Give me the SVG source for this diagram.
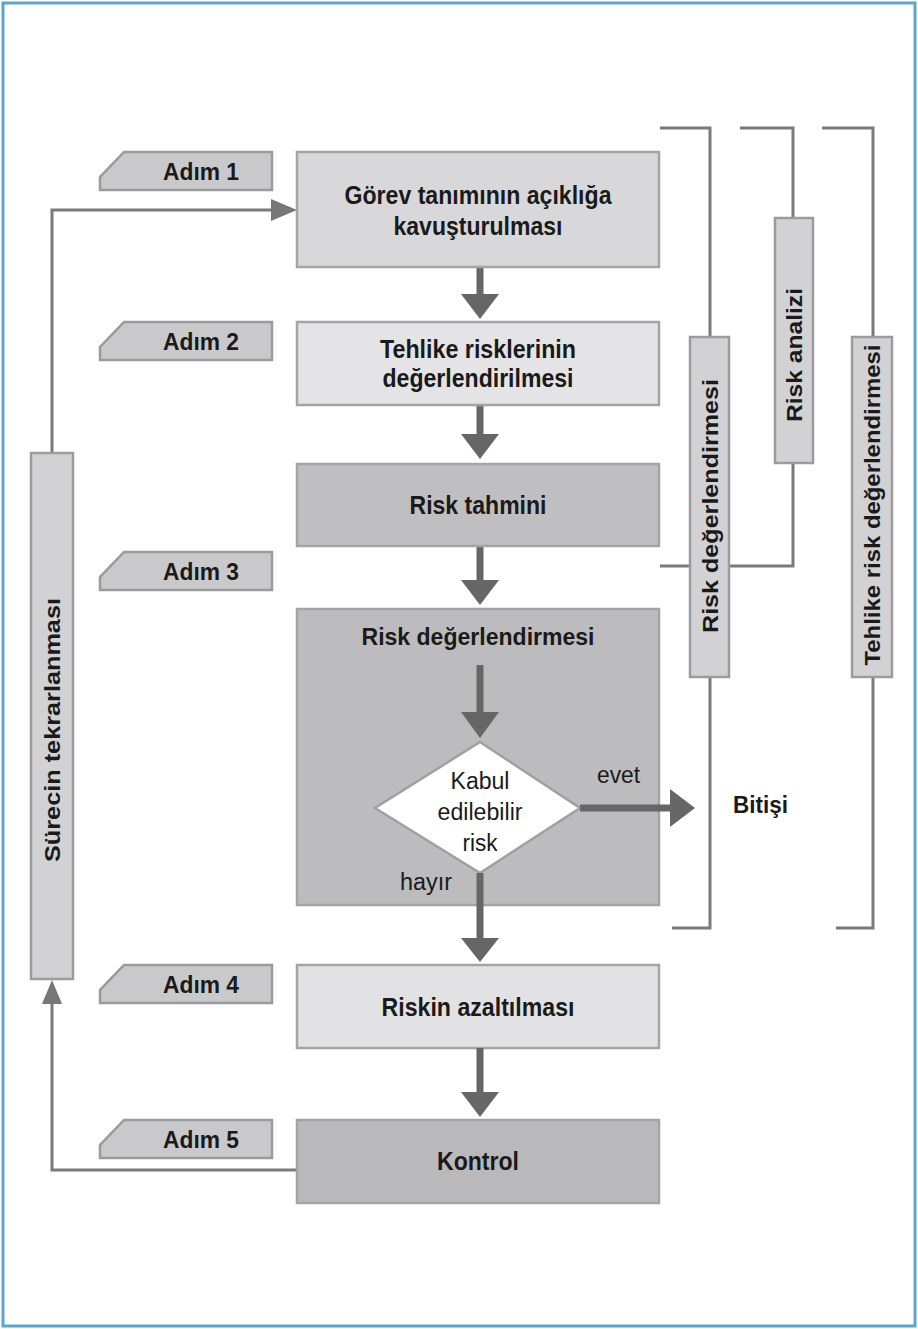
<svg xmlns="http://www.w3.org/2000/svg" width="918" height="1329" viewBox="0 0 918 1329">
<style>
.t{font-family:"Liberation Sans",Arial,sans-serif;font-weight:bold;fill:#1a1a1a;}
.r{font-family:"Liberation Sans",Arial,sans-serif;font-weight:normal;fill:#1a1a1a;}
.box{stroke:#a4a4a6;stroke-width:2.5;}
.tag{fill:#c9c9cb;stroke:#9a9a9c;stroke-width:2.5;}
.bar{fill:#d2d2d4;stroke:#9c9c9e;stroke-width:2.5;}
.ln{fill:none;stroke:#7a7a7a;stroke-width:3;}
.stem{fill:none;stroke:#666;stroke-width:7;}
.head{fill:#666;}
.thin{fill:#777;}
</style>
<rect x="3" y="3" width="912" height="1323" fill="#fff" stroke="#5ba7cb" stroke-width="3"/>

<g id="connectors">
  <line class="stem" x1="480" y1="267" x2="480" y2="297"/>
  <polygon class="head" points="461,294 499,294 480,319"/>
  <line class="stem" x1="480" y1="405" x2="480" y2="437"/>
  <polygon class="head" points="461,434 499,434 480,459"/>
  <line class="stem" x1="480" y1="546" x2="480" y2="583"/>
  <polygon class="head" points="461,580 499,580 480,605"/>
  <polyline class="ln" points="297,1170 52,1170 52,1000"/>
  <polygon class="thin" points="42,1004 62,1004 52,980"/>
  <polyline class="ln" points="52,453 52,210 272,210"/>
  <polygon class="thin" points="271,199 271,221 297,210"/>
  <polyline class="ln" points="660,128 710,128 710,337"/>
  <polyline class="ln" points="710,677 710,928 672,928"/>
  <polyline class="ln" points="740,128 793,128 793,218"/>
  <polyline class="ln" points="793,463 793,566 660,566"/>
  <polyline class="ln" points="822,128 873,128 873,337"/>
  <polyline class="ln" points="873,677 873,928 836,928"/>
</g>

<g id="step1">
  <polygon class="tag" points="100,190 100,177 124,152 272,152 272,190"/>
  <text class="t" x="201" y="180" font-size="24" text-anchor="middle" textLength="76" lengthAdjust="spacingAndGlyphs">Adım 1</text>
</g>
<g id="step2">
  <polygon class="tag" points="100,360 100,347 124,322 272,322 272,360"/>
  <text class="t" x="201" y="350" font-size="24" text-anchor="middle" textLength="76" lengthAdjust="spacingAndGlyphs">Adım 2</text>
</g>
<g id="step3">
  <polygon class="tag" points="100,590 100,577 124,552 272,552 272,590"/>
  <text class="t" x="201" y="580" font-size="24" text-anchor="middle" textLength="76" lengthAdjust="spacingAndGlyphs">Adım 3</text>
</g>
<g id="step4">
  <polygon class="tag" points="100,1003 100,990 124,965 272,965 272,1003"/>
  <text class="t" x="201" y="993" font-size="24" text-anchor="middle" textLength="76" lengthAdjust="spacingAndGlyphs">Adım 4</text>
</g>
<g id="step5">
  <polygon class="tag" points="100,1158 100,1145 124,1120 272,1120 272,1158"/>
  <text class="t" x="201" y="1148" font-size="24" text-anchor="middle" textLength="76" lengthAdjust="spacingAndGlyphs">Adım 5</text>
</g>

<g id="gorev">
  <rect class="box" x="297" y="152" width="362" height="115" fill="#d8d8da"/>
  <text class="t" x="478" y="204" font-size="25" text-anchor="middle" textLength="267" lengthAdjust="spacingAndGlyphs">Görev tanımının açıklığa</text>
  <text class="t" x="478" y="235" font-size="25" text-anchor="middle" textLength="169" lengthAdjust="spacingAndGlyphs">kavuşturulması</text>
</g>
<g id="tehlike">
  <rect class="box" x="297" y="322" width="362" height="83" fill="#e4e4e6"/>
  <text class="t" x="478" y="358" font-size="25" text-anchor="middle" textLength="196" lengthAdjust="spacingAndGlyphs">Tehlike risklerinin</text>
  <text class="t" x="478" y="387" font-size="25" text-anchor="middle" textLength="191" lengthAdjust="spacingAndGlyphs">değerlendirilmesi</text>
</g>
<g id="tahmin">
  <rect class="box" x="297" y="464" width="362" height="82" fill="#bfbfc1"/>
  <text class="t" x="478" y="514" font-size="25" text-anchor="middle" textLength="137" lengthAdjust="spacingAndGlyphs">Risk tahmini</text>
</g>
<g id="degerlendirme">
  <rect class="box" x="297" y="609" width="362" height="296" fill="#bcbcbe"/>
  <text class="t" x="478" y="645" font-size="23" text-anchor="middle" textLength="233" lengthAdjust="spacingAndGlyphs">Risk değerlendirmesi</text>
  <line class="stem" x1="480" y1="665" x2="480" y2="715"/>
  <polygon class="head" points="461,712 499,712 480,738"/>
</g>
<g id="karar">
  <polygon points="480,742 580,808 480,873 375,808" fill="#fff" stroke="#a0a0a2" stroke-width="2.5"/>
  <text class="r" x="480" y="789" font-size="23" text-anchor="middle" textLength="59" lengthAdjust="spacingAndGlyphs">Kabul</text>
  <text class="r" x="480" y="820" font-size="23" text-anchor="middle" textLength="85" lengthAdjust="spacingAndGlyphs">edilebilir</text>
  <text class="r" x="480" y="851" font-size="23" text-anchor="middle" textLength="35" lengthAdjust="spacingAndGlyphs">risk</text>
</g>
<g id="evet">
  <line class="stem" x1="580" y1="808" x2="673" y2="808"/>
  <polygon class="head" points="670,789 670,827 695,808"/>
  <text class="r" x="597" y="783" font-size="23" textLength="43" lengthAdjust="spacingAndGlyphs">evet</text>
</g>
<g id="hayir">
  <line class="stem" x1="480" y1="873" x2="480" y2="941"/>
  <polygon class="head" points="461,938 499,938 480,962"/>
  <text class="r" x="400" y="890" font-size="23" textLength="52" lengthAdjust="spacingAndGlyphs">hayır</text>
</g>
<g id="bitisi">
  <text class="t" x="733" y="813" font-size="23" textLength="55" lengthAdjust="spacingAndGlyphs">Bitişi</text>
</g>
<g id="azaltma">
  <rect class="box" x="297" y="965" width="362" height="83" fill="#e2e2e4"/>
  <text class="t" x="478" y="1016" font-size="25" text-anchor="middle" textLength="193" lengthAdjust="spacingAndGlyphs">Riskin azaltılması</text>
  <line class="stem" x1="480" y1="1048" x2="480" y2="1095"/>
  <polygon class="head" points="461,1092 499,1092 480,1117"/>
</g>
<g id="kontrol">
  <rect class="box" x="297" y="1120" width="362" height="83" fill="#b9b9bb"/>
  <text class="t" x="478" y="1170" font-size="25" text-anchor="middle" textLength="82" lengthAdjust="spacingAndGlyphs">Kontrol</text>
</g>

<g id="surecin">
  <rect class="bar" x="31" y="453" width="42" height="526" fill="#c4c4c6"/>
  <text class="t" transform="translate(60,730) rotate(-90)" x="0" y="0" font-size="22" text-anchor="middle" textLength="264" lengthAdjust="spacingAndGlyphs">Sürecin tekrarlanması</text>
</g>
<g id="risk-degerlendirmesi">
  <rect class="bar" x="690" y="337" width="39" height="340"/>
  <text class="t" transform="translate(718,506) rotate(-90)" x="0" y="0" font-size="22" text-anchor="middle" textLength="254" lengthAdjust="spacingAndGlyphs">Risk değerlendirmesi</text>
</g>
<g id="risk-analizi">
  <rect class="bar" x="775" y="218" width="38" height="245"/>
  <text class="t" transform="translate(802,355) rotate(-90)" x="0" y="0" font-size="22" text-anchor="middle" textLength="134" lengthAdjust="spacingAndGlyphs">Risk analizi</text>
</g>
<g id="tehlike-risk">
  <rect class="bar" x="852" y="337" width="40" height="340"/>
  <text class="t" transform="translate(880,505) rotate(-90)" x="0" y="0" font-size="22" text-anchor="middle" textLength="321" lengthAdjust="spacingAndGlyphs">Tehlike risk değerlendirmesi</text>
</g>
</svg>
